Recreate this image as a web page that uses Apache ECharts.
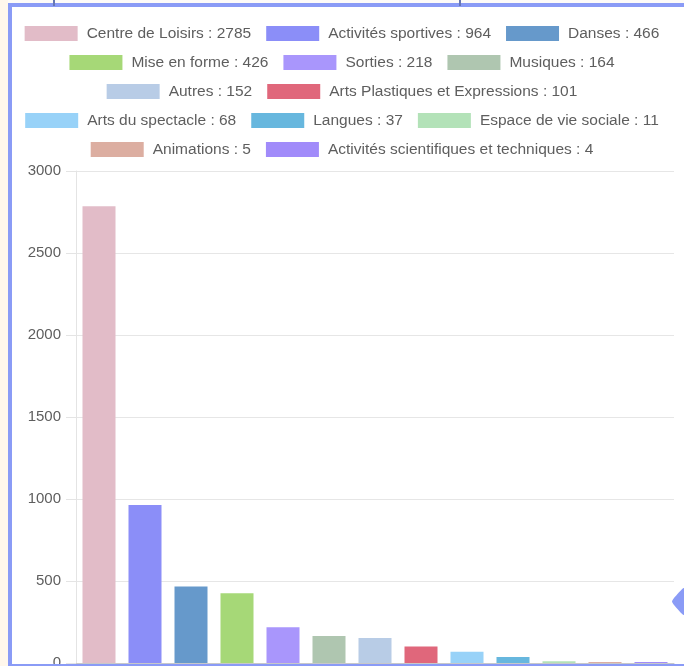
<!DOCTYPE html>
<html>
<head>
<meta charset="utf-8">
<script src="https://cdn.jsdelivr.net/npm/echarts@6/dist/echarts.min.js"></script>
<style>
html, body { margin: 0; padding: 0; background: #fff; }
#main { width: 684px; height: 666px; }
</style>
</head>
<body>
<div id="main"></div>
<script>
// données
const categories = ['Centre de Loisirs', 'Activités sportives', 'Danses', 'Mise en forme', 'Sorties',
  'Musiques', 'Autres', 'Arts Plastiques et Expressions', 'Arts du spectacle', 'Langues',
  'Espace de vie sociale', 'Animations', 'Activités scientifiques et techniques']
const values = [2785, 964, 466, 426, 218, 164, 152, 101, 68, 37, 11, 5, 4]
const yMax = 3000
const yStep = 500

// couleurs des barres
const colors = ['#e2bcc8', '#8b8ef8', '#6699cb', '#a6d877', '#a996fc', '#afc6b0', '#b8cce6',
  '#e0677b', '#98d2f8', '#67b7de', '#b3e2b8', '#dcaea1', '#a18bfa']

// lignes de la légende (centrées une par une, comme Chart.js)
const legendRows = [[0, 1, 2], [3, 4, 5], [6, 7], [8, 9, 10], [11, 12]]

const series = categories.map((c, i) => ({
  name: c + ' : ' + values[i],
  type: 'bar',
  stack: 'all',
  barWidth: 33,
  barMinHeight: 1,
  itemStyle: { color: colors[i] },
  data: values.map((v, j) => j === i ? v : '-')
}))

const blue = '#8a9bf6'
const font = 'Liberation Sans, Arial, sans-serif'

const myChart = echarts.init(document.getElementById('main'))
myChart.setOption({
  backgroundColor: '#fff',
  animation: false,
  color: colors,
  legend: legendRows.map((row, r) => ({
    top: 25.5 + r * 29,
    left: 'center',
    padding: 0,
    itemGap: 15,
    itemWidth: 53,
    itemHeight: 15,
    icon: 'rect',
    data: row.map(i => series[i].name),
    textStyle: {
      color: '#5e5e5e',
      fontSize: 15.5,
      fontFamily: font,
      lineHeight: 15,
      padding: [0, 0, 0, 4]
    }
  })),
  grid: {
    left: 76,
    right: 10,
    top: 171,
    bottom: 3,
    containLabel: false,
    outerBoundsMode: 'none'
  },
  xAxis: {
    type: 'category',
    data: categories,
    axisLine: { show: true, lineStyle: { color: '#c8c8c8' } },
    axisTick: { show: false },
    axisLabel: { show: false },
    splitLine: { show: false }
  },
  yAxis: {
    type: 'value',
    min: 0,
    max: yMax,
    interval: yStep,
    axisLine: { show: true, lineStyle: { color: '#e4e4e4' } },
    axisTick: { show: true, length: 10, lineStyle: { color: '#e4e4e4' } },
    axisLabel: { color: '#5e5e5e', fontSize: 15, fontFamily: font, margin: 15, formatter: v => String(v) },
    splitLine: { lineStyle: { color: '#e6e6e6' } }
  },
  series: series,
  graphic: [
    { type: 'rect', z: 100, shape: { x: 0, y: 0, width: 8, height: 666 }, style: { fill: '#fff7ec' } },
    { type: 'rect', z: 100, shape: { x: 8, y: 0, width: 676, height: 3 }, style: { fill: '#fdfbf8' } },
    { type: 'rect', z: 101, shape: { x: 8, y: 3, width: 4, height: 663 }, style: { fill: blue } },
    { type: 'rect', z: 101, shape: { x: 8, y: 3, width: 676, height: 4 }, style: { fill: blue } },
    { type: 'rect', z: 101, shape: { x: 8, y: 664, width: 676, height: 2 }, style: { fill: blue } },
    { type: 'rect', z: 102, shape: { x: 53, y: 0, width: 2, height: 6 }, style: { fill: '#6677b5' } },
    { type: 'rect', z: 102, shape: { x: 459, y: 0, width: 2, height: 6 }, style: { fill: '#6677b5' } },
    {
      type: 'polygon', z: 102,
      shape: { points: [[684, 588], [674, 598], [672, 601.5], [674, 605], [684, 615]], smooth: 0.2 },
      style: { fill: blue }
    }
  ]
})

window.addEventListener('resize', function () {
  myChart.resize()
})
</script>
</body>
</html>
